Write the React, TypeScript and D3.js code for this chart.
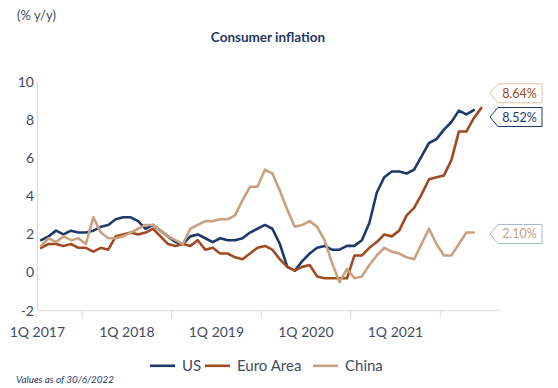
import React from 'react';
import * as d3 from 'd3';

// monthly y/y CPI, Jul 2017 .. (May/Jun) 2022
const usCpi = [
  1.7, 1.9, 2.2, 2.0, 2.2, 2.1,
  2.1, 2.2, 2.4, 2.5, 2.8, 2.9, 2.9, 2.7, 2.3, 2.5, 2.2, 1.9,
  1.6, 1.5, 1.9, 2.0, 1.8, 1.6, 1.8, 1.7, 1.7, 1.8, 2.1, 2.3,
  2.5, 2.3, 1.5, 0.3, 0.1, 0.6, 1.0, 1.3, 1.4, 1.2, 1.2, 1.4,
  1.4, 1.7, 2.6, 4.2, 5.0, 5.3, 5.3, 5.2, 5.4, 6.1, 6.8, 7.0,
  7.5, 7.9, 8.5, 8.3, 8.52,
];
const euroCpi = [
  1.3, 1.5, 1.5, 1.4, 1.5, 1.3,
  1.3, 1.1, 1.3, 1.2, 1.9, 2.0, 2.1, 2.0, 2.1, 2.3, 1.9, 1.5,
  1.4, 1.5, 1.4, 1.7, 1.2, 1.3, 1.0, 1.0, 0.8, 0.7, 1.0, 1.3,
  1.4, 1.2, 0.7, 0.3, 0.1, 0.3, 0.4, -0.2, -0.3, -0.3, -0.3, -0.3,
  0.9, 0.9, 1.3, 1.6, 2.0, 1.9, 2.2, 3.0, 3.4, 4.1, 4.9, 5.0,
  5.1, 5.9, 7.4, 7.4, 8.1, 8.64,
];
const chinaCpi = [
  1.4, 1.8, 1.6, 1.9, 1.7, 1.8,
  1.5, 2.9, 2.1, 1.8, 1.8, 1.9, 2.1, 2.3, 2.5, 2.5, 2.2, 1.9,
  1.7, 1.5, 2.3, 2.5, 2.7, 2.7, 2.8, 2.8, 3.0, 3.8, 4.5, 4.5,
  5.4, 5.2, 4.3, 3.3, 2.4, 2.5, 2.7, 2.4, 1.7, 0.5, -0.5, 0.2,
  -0.3, -0.2, 0.4, 0.9, 1.3, 1.1, 1.0, 0.8, 0.7, 1.5, 2.3, 1.5,
  0.9, 0.9, 1.5, 2.1, 2.1,
];

const xLabels = ['1Q 2017', '1Q 2018', '1Q 2019', '1Q 2020', '1Q 2021'];
const yTicks = [-2, 0, 2, 4, 6, 8, 10];

const series = [
  { name: 'US', values: usCpi, color: '#1b3a6b', box: '#1b3a6b', nudge: 6.8 },
  { name: 'Euro Area', values: euroCpi, color: '#a04a22', box: '#d8c6a8', nudge: -14.6 },
  { name: 'China', values: chinaCpi, color: '#c9a17f', box: '#a9b7c9', nudge: 1.4 },
];

const FONT = 'Lato, "Open Sans", sans-serif';
const AXIS_TXT = '#3f4d63';

export default function App() {
  // axis slots: Jul 2017 .. Aug 2022
  const months = d3.timeMonth.range(new Date(2017, 6, 1), new Date(2022, 8, 1));
  const x = d3.scaleBand<number>()
    .domain(d3.range(months.length))
    .range([37.4, 499.9]);
  const bw = x.bandwidth();
  const cx = (i: number) => (x(i) as number) + bw / 2;

  const y = d3.scaleLinear().domain([-2, 10]).range([310.7, 82]);

  const line = d3.line<number>()
    .x((_, i) => cx(i))
    .y(d => y(d));

  const janIdx = months.map((m, i) => (m.getMonth() === 0 ? i : -1)).filter(i => i >= 0);
  const julIdx = months.map((m, i) => (m.getMonth() === 6 ? i : -1)).filter(i => i >= 0);

  const legendX = [150, 205, 313];

  return (
    <svg width={558} height={388} style={{ position: 'fixed', left: 0, top: 0, background: '#fff' }}
      fontFamily={FONT}>
      <text x={17} y={20} fontSize={13} fill={AXIS_TXT}>(% y/y)</text>
      <text x={268} y={42} fontSize={13.5} fontWeight="bold" fill="#1f3864" textAnchor="middle">
        Consumer inflation
      </text>

      {/* y axis */}
      <line x1={37.4} x2={37.4} y1={y(10)} y2={y(-2)} stroke="#d9d9d9" strokeWidth={1} />
      {yTicks.map(t => (
        <text key={t} x={34} y={y(t)} dy="0.35em" textAnchor="end" fontSize={14} fill={AXIS_TXT}>{t}</text>
      ))}

      {/* x axis */}
      <line x1={37.4} x2={499.9} y1={y(-2)} y2={y(-2)} stroke="#d9d9d9" strokeWidth={1} />
      {janIdx.map(i => (
        <line key={i} x1={x(i)} x2={x(i)} y1={y(-2)} y2={y(-2) + 8} stroke="#d9d9d9" strokeWidth={1} />
      ))}
      {xLabels.map((lab, k) => (
        <text key={lab} x={x(julIdx[k])} y={337} textAnchor="middle" fontSize={14} fill={AXIS_TXT}>{lab}</text>
      ))}

      {/* series */}
      {series.map(s => (
        <path key={s.name} d={line(s.values) || ''} fill="none" stroke={s.color}
          strokeWidth={2.6} strokeLinejoin="round" strokeLinecap="round" />
      ))}

      {/* end labels */}
      {series.map(s => {
        const last = s.values[s.values.length - 1];
        const cy = y(last) + s.nudge;
        const h = 9.5;
        const d = `M490,${cy} L498,${cy - h} L542,${cy - h} L542,${cy + h} L498,${cy + h} Z`;
        return (
          <g key={s.name}>
            <path d={d} fill="#fff" stroke={s.box} strokeWidth={1} />
            <text x={519.5} y={cy} dy="0.36em" textAnchor="middle" fontSize={12.5} fill={s.color}>
              {last.toFixed(2)}%
            </text>
          </g>
        );
      })}

      {/* legend */}
      {series.map((s, k) => (
        <g key={s.name}>
          <line x1={legendX[k]} x2={legendX[k] + 25} y1={365.8} y2={365.8} stroke={s.color} strokeWidth={2.6} />
          <text x={legendX[k] + 32} y={366} dy="0.35em" fontSize={15} fill={AXIS_TXT}>{s.name}</text>
        </g>
      ))}

      <text x={16} y={383} fontSize={9.8} fontStyle="italic" fill="#1f3864">Values as of 30/6/2022</text>
    </svg>
  );
}
